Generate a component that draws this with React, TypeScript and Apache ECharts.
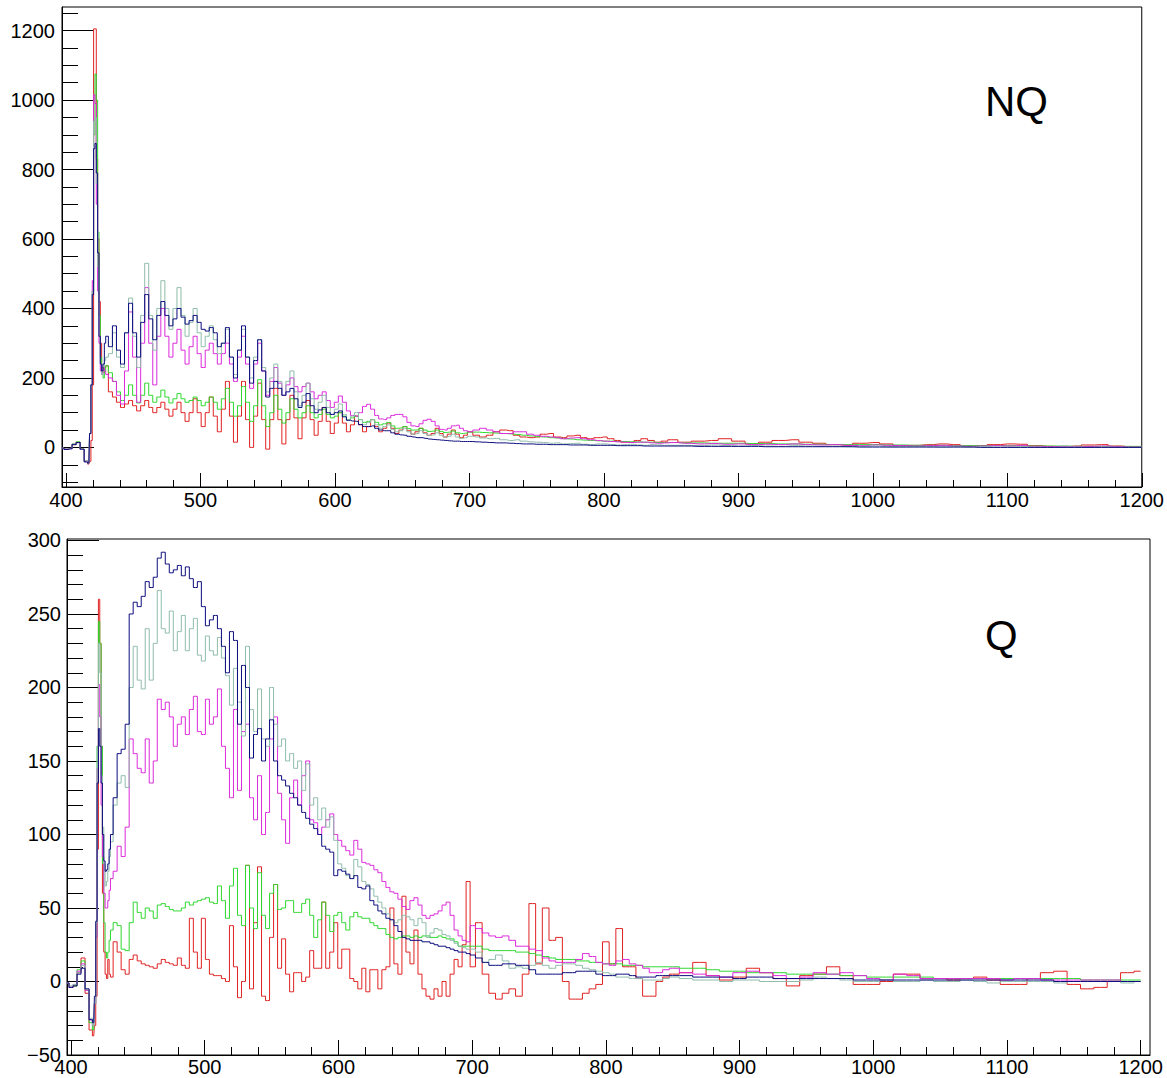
import React, { useEffect, useRef } from "react";
import * as echarts from "echarts";

const FONT = "'Liberation Sans', Arial, Helvetica, sans-serif";

// Sampling grid (bin centres) shared by every series: [from, to, step]
const X_SEGMENTS: [number, number, number][] = [
  [397, 415, 3],
  [417, 430, 1],
  [433, 700, 3],
  [705, 850, 5],
  [860, 1200, 10],
];

// Tick labels
const X_TICKS = [400, 500, 600, 700, 800, 900, 1000, 1100, 1200];
const NQ_Y_TICKS = [0, 200, 400, 600, 800, 1000, 1200];
const Q_Y_TICKS = [-50, 0, 50, 100, 150, 200, 250, 300];
const PANEL_LABELS = ["NQ", "Q"];

const COLORS = {
  red: "#e02222",
  green: "#2fd82f",
  magenta: "#dc2adc",
  teal: "#8fbcaa",
  navy: "#0c0c7e",
};

// ---------------- NQ (top) ----------------
const NQ_RED = [
  [-2, -5, -3, 8, 15, -5, -38],
  [-48, -40, 20, 180, 1205, 1205, 830, 600, 420, 300, 230, 215, 230, 235],
  [
    160, 145, 130, 115, 125, 135, 120, 105, 120, 135,
    115, 100, 115, 130, 110, 90, 110, 130, 100, 75,
    100, 140, 100, 60, 100, 145, 90, 45, 110, 190,
    90, 15, 90, 190, 80, 0, 90, 185, 80, -5,
    80, 170, 80, 10, 80, 150, 85, 25, 85, 135,
    80, 35, 75, 115, 75, 40, 70, 100, 70, 45,
    65, 90, 65, 45, 60, 80, 60, 45, 55, 70,
    55, 40, 50, 60, 48, 38, 45, 55, 42, 35,
    40, 55, 40, 30, 38, 50, 38, 28, 35, 45,
  ],
  [
    35, 30, 35, 45, 50, 48, 35, 30, 28, 30,
    38, 40, 30, 28, 33, 35, 28, 25, 28, 30,
    25, 20, 15, 15, 20, 25, 20, 15, 18, 22,
  ],
  [
    15, 18, 20, 25, 18, 10, 15, 20, 22, 15,
    12, 8, 6, 12, 14, 10, 5, 6, 8, 10,
    8, 4, 5, 8, 10, 9, 5, 3, 2, 4,
    7, 8, 4, 2, 1,
  ],
];

const NQ_GREEN = [
  [-2, -5, -3, 10, 16, -5, -40],
  [-45, 40, 180, 450, 900, 1075, 1000, 620, 380, 260, 210, 200, 220, 235],
  [
    215, 190, 160, 135, 150, 180, 150, 128, 150, 185,
    150, 130, 145, 165, 145, 128, 140, 155, 140, 130,
    135, 145, 135, 120, 130, 145, 130, 110, 140, 170,
    130, 90, 120, 175, 130, 75, 120, 195, 120, 60,
    100, 150, 110, 70, 100, 140, 110, 85, 100, 120,
    100, 85, 95, 110, 95, 85, 90, 100, 90, 80,
    85, 90, 80, 72, 75, 80, 72, 65, 68, 72,
    62, 55, 56, 60, 54, 50, 50, 55, 50, 46,
    47, 50, 46, 43, 44, 47, 42, 40, 41, 44,
  ],
  [
    44, 43, 42, 41, 40, 39, 37, 35, 33, 31,
    30, 28, 27, 25, 24, 22, 21, 20, 19, 18,
    18, 17, 17, 16, 16, 15, 15, 14, 14, 14,
  ],
  [
    13, 13, 12, 12, 12, 11, 11, 10, 10, 9,
    9, 8, 8, 8, 8, 7, 7, 6, 6, 6,
    5, 5, 5, 5, 5, 4, 4, 4, 4, 3,
    3, 3, 3, 3, 3,
  ],
];

const NQ_MAGENTA = [
  [-2, -5, -4, 9, 14, -6, -40],
  [-45, 40, 180, 480, 1015, 990, 700, 450, 300, 220, 210, 230, 220, 210],
  [
    200, 190, 150, 125, 220, 390, 260, 130, 300, 460,
    300, 180, 320, 400, 320, 260, 300, 340, 280, 240,
    290, 320, 270, 230, 280, 300, 270, 240, 270, 300,
    240, 190, 260, 320, 240, 170, 240, 300, 220, 150,
    190, 230, 185, 150, 180, 200, 175, 160, 175, 185,
    160, 140, 150, 160, 135, 115, 130, 148, 130, 105,
    92, 90, 100, 118, 124, 110, 92, 82, 80, 85,
    92, 95, 95, 88, 72, 62, 60, 68, 78, 81,
    75, 62, 52, 50, 55, 62, 64, 55, 48, 45,
  ],
  [
    50, 55, 50, 45, 40, 40, 45, 45, 38, 35,
    32, 30, 28, 25, 27, 28, 25, 22, 20, 18,
    17, 16, 15, 14, 15, 15, 13, 12, 13, 14,
  ],
  [
    12, 10, 11, 9, 10, 8, 9, 8, 10, 8,
    7, 8, 6, 5, 7, 6, 5, 4, 5, 6,
    4, 3, 4, 5, 4, 6, 3, 2, 3, 2,
    3, 4, 2, 1, 1,
  ],
];

const NQ_TEAL = [
  [-2, -5, -3, 8, 13, -5, -38],
  [-45, 40, 180, 450, 940, 950, 760, 520, 320, 240, 210, 230, 250, 260],
  [
    270, 330, 260, 230, 330, 430, 320, 230, 380, 530,
    380, 280, 400, 480, 400, 340, 400, 460, 380, 320,
    360, 400, 330, 290, 320, 350, 310, 270, 300, 340,
    260, 210, 280, 340, 260, 200, 260, 310, 230, 160,
    200, 240, 190, 150, 190, 220, 160, 120, 150, 185,
    140, 110, 130, 150, 115, 95, 110, 125, 95, 80,
    90, 100, 80, 65, 72, 80, 65, 55, 60, 65,
    52, 45, 48, 55, 45, 38, 40, 48, 40, 34,
    36, 42, 35, 30, 32, 38, 30, 26, 28, 32,
  ],
  [
    30, 27, 25, 26, 22, 20, 22, 18, 16, 15,
    14, 12, 13, 10, 11, 12, 9, 8, 10, 10,
    8, 7, 8, 9, 7, 6, 8, 7, 6, 6,
  ],
  [
    6, 5, 7, 5, 4, 5, 4, 3, 5, 4,
    3, 3, 2, 3, 4, 2, 2, 3, 2, 1,
    2, 1, 2, 1, 1, 2, 1, 0, 1, 1,
    0, 1, 0, 0, 0,
  ],
];

const NQ_NAVY = [
  [-2, -6, -4, 8, 14, -5, -42],
  [-45, 40, 180, 440, 860, 875, 790, 560, 320, 240, 220, 240, 300, 320],
  [
    290, 350, 280, 240, 330, 415, 330, 260, 360, 440,
    370, 310, 380, 420, 380, 350, 370, 400, 375, 355,
    365, 380, 360, 340, 335, 345, 330, 290, 300, 345,
    260, 200, 280, 350, 260, 185, 250, 310, 220, 145,
    170, 190, 170, 150, 160, 170, 140, 115, 130, 155,
    120, 100, 108, 115, 100, 95, 100, 105, 88, 78,
    76, 75, 66, 60, 60, 62, 55, 50, 48, 48,
    42, 38, 36, 35, 32, 30, 28, 28, 26, 24,
    23, 22, 21, 20, 19, 18, 18, 17, 17, 17,
  ],
  [
    16, 15, 14, 13, 13, 12, 11, 10, 10, 9,
    9, 8, 8, 8, 7, 7, 7, 6, 6, 6,
    6, 5, 5, 5, 5, 4, 4, 4, 4, 4,
  ],
  [
    4, 3, 3, 3, 3, 3, 2, 2, 2, 2,
    2, 2, 2, 1, 1, 1, 1, 1, 1, 1,
    1, 1, 0, 0, 0, 0, 0, 0, 0, 0,
    0, 0, 0, 0, 0,
  ],
];

// ---------------- Q (bottom) ----------------
const Q_RED = [
  [-1, -4, -3, 6, 16, -8, -33],
  [-37, -30, -10, 90, 260, 230, 160, 60, 20, 5, 2, 15, 5, 3],
  [
    27, 20, 8, 5, 15, 18, 14, 12, 11, 10,
    9, 12, 15, 13, 12, 11, 16, 11, 9, 43,
    20, 9, 43, 15, 5, 4, 4, 2, 0, 38,
    10, -11, 0, 79, -5, 40, 78, -10, -13, 30,
    66, 9, 29, 5, -7, 6, 6, 0, 3, 21,
    9, 9, 54, 9, 20, 40, 9, 22, 22, 2,
    0, -5, 9, -7, 8, 8, -5, 8, 10, 50,
    12, 5, 58, 20, 12, 35, 5, -5, -10, -12,
    -5, -10, 0, -10, 5, 15, 10, 25, 68, 10,
  ],
  [
    40, 5, -8, -12, -8, -5, -10, 5, 53, 12,
    50, 28, 30, 0, -12, -12, -8, -5, -2, 27,
    12, 36, 10, 10, 2, -10, -10, 0, 3, 5,
  ],
  [
    6, 13, 4, 1, 3, 9, 6, 2, -3, 4,
    5, 10, 4, -2, -2, 0, 5, 5, 2, 2,
    1, 2, 3, 1, -2, -2, 2, 6, 7, -2,
    -5, -4, 0, 6, 7,
  ],
];

const Q_GREEN = [
  [-1, -4, -3, 8, 14, -6, -28],
  [-33, -15, 30, 160, 245, 230, 160, 80, 40, 20, 16, 20, 28, 35],
  [
    40, 38, 22, 21, 40, 54, 47, 43, 50, 48,
    43, 52, 53, 51, 49, 48, 48, 50, 54, 52,
    54, 55, 56, 57, 54, 53, 65, 55, 43, 65,
    77, 45, 38, 79, 50, 36, 74, 45, 36, 60,
    66, 49, 50, 55, 55, 47, 47, 53, 56, 45,
    30, 42, 54, 45, 34, 45, 47, 40, 35, 44,
    47, 44, 43, 43, 40, 38, 36, 36, 32, 30,
    29, 30, 31, 31, 30, 31, 30, 31, 31, 30,
    30, 31, 30, 29, 29, 27, 24, 24, 24, 24,
  ],
  [
    24, 22, 21, 21, 21, 21, 20, 20, 19, 18,
    17, 16, 15, 15, 15, 14, 14, 13, 13, 12,
    12, 12, 11, 11, 11, 10, 10, 10, 10, 10,
  ],
  [
    9, 9, 8, 7, 7, 6, 6, 6, 5, 5,
    5, 5, 4, 4, 3, 3, 3, 3, 3, 2,
    2, 2, 2, 2, 2, 2, 2, 2, 2, 2,
    1, 1, 1, 1, 1,
  ],
];

const Q_MAGENTA = [
  [-1, -4, -2, 7, 12, -6, -26],
  [-30, -15, 30, 145, 202, 180, 120, 85, 60, 50, 50, 55, 62, 70],
  [
    75, 92, 85, 105, 165, 155, 145, 142, 165, 135,
    150, 192, 185, 190, 180, 160, 175, 180, 168, 185,
    194, 170, 168, 192, 175, 180, 199, 160, 145, 125,
    185, 130, 170, 175, 125, 110, 140, 100, 115, 165,
    180, 128, 110, 94, 125, 137, 120, 140, 150, 110,
    108, 100, 105, 110, 114, 100, 96, 92, 89, 86,
    96, 90, 81, 80, 79, 76, 74, 68, 64, 61,
    60, 56, 51, 49, 55, 57, 52, 45, 43, 45,
    46, 48, 52, 54, 45, 35, 31, 28, 27, 38,
  ],
  [
    36, 33, 31, 30, 31, 28, 24, 24, 22, 21,
    16, 14, 13, 13, 13, 15, 19, 17, 13, 12,
    11, 14, 15, 12, 11, 9, 6, 6, 8, 9,
  ],
  [
    6, 5, 4, 3, 6, 7, 6, 4, 2, 3,
    6, 5, 6, 4, 2, 1, 5, 4, 2, 2,
    2, 2, 2, 2, 1, 2, 2, 1, 1, 1,
    1, 1, 1, 0, 0,
  ],
];

const Q_TEAL = [
  [-1, -3, -2, 6, 11, -5, -25],
  [-30, -15, 40, 160, 230, 210, 140, 105, 80, 65, 68, 75, 85, 95],
  [
    120, 135, 140, 132, 200, 228, 205, 199, 240, 205,
    230, 266, 240, 237, 252, 225, 238, 249, 225, 240,
    247, 222, 218, 235, 225, 222, 234, 220, 208, 188,
    213, 190, 167, 228, 185, 170, 199, 165, 160, 200,
    175, 160, 165, 150, 155, 145, 150, 130, 148, 120,
    125, 110, 118, 105, 112, 96, 80, 77, 72, 70,
    83, 78, 68, 66, 63, 58, 54, 50, 46, 42,
    40, 42, 45, 44, 42, 38, 43, 40, 30, 33,
    36, 35, 32, 31, 28, 26, 24, 23, 22, 22,
  ],
  [
    20, 13, 15, 18, 14, 9, 10, 9, 11, 13,
    11, 9, 11, 12, 12, 11, 9, 8, 7, 6,
    5, 3, 3, 2, 2, 1, 1, 1, 2, 3,
  ],
  [
    2, 1, 1, 0, 1, 1, 0, 0, 0, 1,
    3, 2, 1, 0, 0, 1, 0, 0, 1, 0,
    0, 1, 0, -1, 0, 0, 0, 0, -1, 0,
    0, 0, 0, -1, 0,
  ],
];

const Q_NAVY = [
  [-1, -4, -3, 5, 9, -5, -26],
  [-28, -10, 41, 135, 172, 160, 135, 100, 82, 75, 76, 80, 90, 100],
  [
    125, 155, 158, 175, 250, 258, 255, 262, 272, 268,
    275, 288, 292, 284, 278, 280, 283, 276, 282, 274,
    268, 272, 255, 242, 246, 249, 240, 228, 210, 238,
    232, 175, 215, 200, 152, 168, 172, 150, 165, 178,
    150, 140, 137, 133, 128, 125, 120, 115, 111, 107,
    104, 100, 92, 90, 88, 72, 76, 75, 73, 70,
    72, 64, 63, 65, 55, 52, 48, 46, 43, 42,
    38, 34, 30, 29, 28, 28, 28, 27, 27, 26,
    25, 24, 24, 23, 22, 21, 20, 20, 19, 18,
  ],
  [
    16, 13, 11, 11, 12, 12, 11, 11, 8, 5,
    5, 5, 5, 6, 6, 7, 7, 7, 5, 4,
    4, 5, 5, 4, 3, 3, 3, 4, 4, 4,
  ],
  [
    4, 3, 3, 3, 2, 3, 3, 2, 2, 2,
    2, 2, 2, 1, 1, 1, 1, 1, 1, 1,
    1, 1, 1, 1, 1, 1, 1, 1, 0, 0,
    0, 0, 0, 0, 0,
  ],
];

// ---------------- helpers ----------------
function stepRange(a: number, b: number, s: number): number[] {
  const out: number[] = [];
  for (let v = a; v <= b + 1e-9; v += s) out.push(v);
  return out;
}
const X_GRID = X_SEGMENTS.map(([a, b, s]) => stepRange(a, b, s));

function toPairs(segs: number[][]): number[][] {
  const out: number[][] = [];
  segs.forEach((vals, i) => {
    const xs = X_GRID[i];
    const n = Math.min(xs.length, vals.length);
    for (let k = 0; k < n; k++) out.push([xs[k], vals[k]]);
  });
  return out;
}

function minorBetween(majors: number[], step: number, lo: number, hi: number): number[] {
  const out: number[] = [];
  const first = majors[0] - Math.floor((majors[0] - lo) / step) * step;
  for (let v = first; v <= hi + 1e-9; v += step) {
    const r = Math.round(v * 1000) / 1000;
    if (!majors.includes(r) && r >= lo && r <= hi) out.push(r);
  }
  return out;
}

const fmt = (v: number) => String(v).replace("-", "\u2212");

function xAxes(gridIndex: number, min: number, max: number, major: number, minor: number, margin: number, fontSize: number) {
  const minorVals = minorBetween(X_TICKS, 20, min, max);
  const base = {
    type: "value",
    gridIndex,
    min,
    max,
    position: "bottom",
    splitLine: { show: false },
  };
  return [
    {
      ...base,
      axisLine: { show: true, onZero: false, lineStyle: { color: "#000", width: 1 } },
      axisTick: { show: true, inside: true, length: major, customValues: X_TICKS, lineStyle: { color: "#000", width: 1 } },
      axisLabel: { show: true, customValues: X_TICKS, margin, fontSize, fontFamily: FONT, color: "#000", formatter: fmt },
    },
    {
      ...base,
      axisLine: { show: false, onZero: false },
      axisTick: { show: true, inside: true, length: minor, customValues: minorVals, lineStyle: { color: "#000", width: 1 } },
      axisLabel: { show: false },
    },
  ];
}

function yAxes(gridIndex: number, min: number, max: number, ticks: number[], minorStep: number, major: number, minor: number, margin: number, fontSize: number) {
  const minorVals = minorBetween(ticks, minorStep, min, max);
  const base = {
    type: "value",
    gridIndex,
    min,
    max,
    position: "left",
    splitLine: { show: false },
  };
  return [
    {
      ...base,
      axisLine: { show: true, onZero: false, lineStyle: { color: "#000", width: 1 } },
      axisTick: { show: true, inside: true, length: major, customValues: ticks, lineStyle: { color: "#000", width: 1 } },
      axisLabel: { show: true, customValues: ticks, margin, fontSize, fontFamily: FONT, color: "#000", formatter: fmt },
    },
    {
      ...base,
      axisLine: { show: false, onZero: false },
      axisTick: { show: true, inside: true, length: minor, customValues: minorVals, lineStyle: { color: "#000", width: 1 } },
      axisLabel: { show: false },
    },
  ];
}

function lineSeries(data: number[][], color: string, xAxisIndex: number, yAxisIndex: number) {
  return {
    type: "line",
    xAxisIndex,
    yAxisIndex,
    data: toPairs(data),
    step: "middle",
    symbol: "none",
    showSymbol: false,
    silent: true,
    clip: true,
    lineStyle: { width: 1, color },
    itemStyle: { color },
  };
}

export default function App() {
  const ref = useRef<HTMLDivElement>(null);
  useEffect(() => {
    if (!ref.current) return;
    const chart = echarts.init(ref.current, null, { renderer: "svg" });
    const option = {
      animation: false,
      backgroundColor: "#fff",
      grid: [
        { left: 62, top: 7, width: 1081, height: 480, show: true, borderColor: "#000", borderWidth: 1, backgroundColor: "transparent" },
        { left: 67, top: 539, width: 1083, height: 516, show: true, borderColor: "#000", borderWidth: 1, backgroundColor: "transparent" },
      ],
      xAxis: [
        ...xAxes(0, 397, 1200, 14, 7, 3, 20),
        ...xAxes(1, 397, 1207, 15, 8, 2, 20),
      ],
      yAxis: [
        ...yAxes(0, -114, 1268, NQ_Y_TICKS, 50, 32, 16, 7, 20),
        ...yAxes(1, -50, 301, Q_Y_TICKS, 10, 32, 16, 6, 20),
      ],
      series: [
        lineSeries(NQ_RED, COLORS.red, 0, 0),
        lineSeries(NQ_GREEN, COLORS.green, 0, 0),
        lineSeries(NQ_MAGENTA, COLORS.magenta, 0, 0),
        lineSeries(NQ_TEAL, COLORS.teal, 0, 0),
        lineSeries(NQ_NAVY, COLORS.navy, 0, 0),
        lineSeries(Q_RED, COLORS.red, 2, 2),
        lineSeries(Q_GREEN, COLORS.green, 2, 2),
        lineSeries(Q_MAGENTA, COLORS.magenta, 2, 2),
        lineSeries(Q_TEAL, COLORS.teal, 2, 2),
        lineSeries(Q_NAVY, COLORS.navy, 2, 2),
      ],
      graphic: [
        {
          type: "text",
          left: 985,
          top: 80,
          style: { text: PANEL_LABELS[0], font: `42px ${FONT}`, fill: "#000" },
        },
        {
          type: "text",
          left: 985,
          top: 614,
          style: { text: PANEL_LABELS[1], font: `42px ${FONT}`, fill: "#000" },
        },
      ],
    };
    chart.setOption(option as any);
    return () => chart.dispose();
  }, []);
  return (
    <div
      ref={ref}
      style={{ position: "absolute", left: 0, top: 0, width: 1167, height: 1078, background: "#fff" }}
    />
  );
}
